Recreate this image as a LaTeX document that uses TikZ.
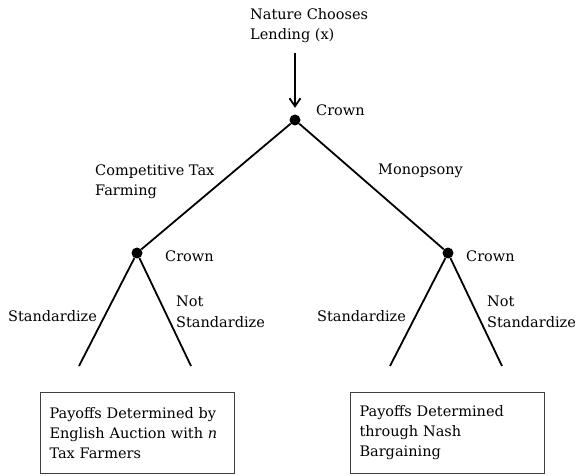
\documentclass[tikz,border=0pt]{standalone}
\usepackage{fontspec}
\setmainfont{DejaVu Serif}
\usepackage{xcolor}
\definecolor{cLine}{HTML}{000000}
\definecolor{cBox}{HTML}{3F3F3F}
\usepackage{tikz}
\usetikzlibrary{positioning,arrows.meta}
\tikzset{
  node-dot/.style={circle,fill=cLine,inner sep=0pt,minimum size=11pt},
  node-label/.style={inner sep=0pt,align=left,
    font=\fontsize{14.5pt}{20.5pt}\selectfont},
  node-payoff/.style={draw=cBox,line width=1pt,text width=176pt,
    inner xsep=9pt,inner ysep=0pt,minimum height=81pt,align=left,
    font=\fontsize{14.5pt}{20pt}\selectfont},
  branch/.style={line width=1.8pt,draw=cLine},
  arrow/.style={-{Straight Barb[length=8pt,width=11pt]},line width=1.8pt,
    draw=cLine},
}
\begin{document}
\begin{tikzpicture}[x=1pt,y=-1pt,on grid]
  \useasboundingbox (0,0) rectangle (576,476);
  % decision nodes of the crown
  \node[node-dot] (root) at (295,120) {};
  \node[node-dot,below left=133pt and 158pt of root] (comp) {};
  \node[node-dot,below right=133pt and 153pt of root] (mono) {};
  \coordinate[below left=113pt and 58pt of comp] (comp-std);
  \coordinate[below right=113pt and 54pt of comp] (comp-not);
  \coordinate[below left=113pt and 58pt of mono] (mono-std);
  \coordinate[below right=113pt and 54pt of mono] (mono-not);

  \node[node-label,anchor=base west] (nature) at (250,40)
    {Nature Chooses\\Lending (x)};
  \node[node-label,anchor=base west] (root-lbl) at (316,116) {Crown};
  \node[node-label,anchor=base west] (comp-lbl) at (165,261) {Crown};
  \node[node-label,anchor=base west] (mono-lbl) at (466,261) {Crown};

  % branch labels
  \node[node-label,anchor=base west] (comp-txt) at (95,196)
    {Competitive Tax\\Farming};
  \node[node-label,anchor=base west] (mono-txt) at (378,175) {Monopsony};
  \node[node-label,anchor=base west] (comp-std-txt) at (8,321) {Standardize};
  \node[node-label,anchor=base west] (comp-not-txt) at (176,327)
    {Not\\Standardize};
  \node[node-label,anchor=base west] (mono-std-txt) at (317,321) {Standardize};
  \node[node-label,anchor=base west] (mono-not-txt) at (487,327)
    {Not\\Standardize};

  % payoffs
  \node[node-payoff,anchor=north west] (pay-auction) at (40,392)
    {Payoffs Determined by\\English Auction with \textit{n}\\Tax Farmers};
  \node[node-payoff,anchor=north west] (pay-nash) at (350,392)
    {Payoffs Determined\\through Nash\\Bargaining};

  \draw[arrow,shorten <=10pt,shorten >=6.5pt] (root |- nature.south) -- (root);
  \draw[branch] (root) -- (comp);
  \draw[branch] (root) -- (mono);
  \draw[branch] (comp) -- (comp-std);
  \draw[branch] (comp) -- (comp-not);
  \draw[branch] (mono) -- (mono-std);
  \draw[branch] (mono) -- (mono-not);
\end{tikzpicture}
\end{document}
